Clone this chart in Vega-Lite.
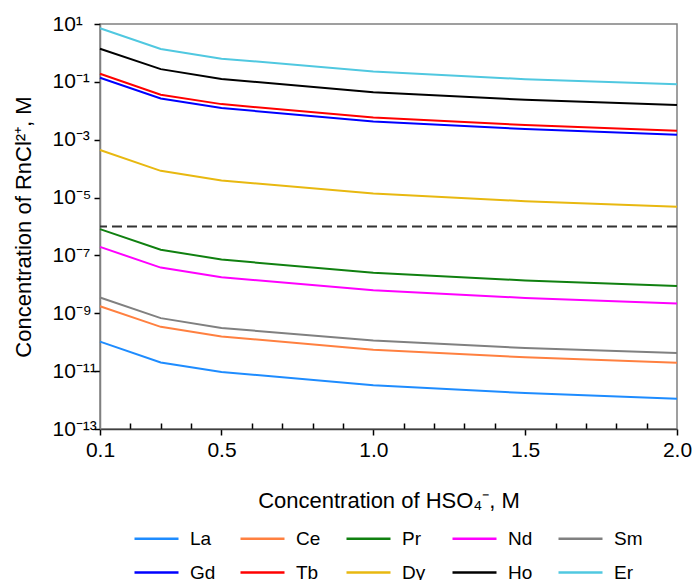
{
  "$schema": "https://vega.github.io/schema/vega-lite/v6.json",
  "width": 577,
  "height": 405,
  "autosize": {"type": "none"},
  "padding": {"left": 100, "top": 24, "right": 15, "bottom": 151},
  "background": "white",
  "config": {
    "font": "Liberation Sans",
    "view": {"stroke": "#808080", "strokeWidth": 1.5},
    "axis": {
      "grid": false,
      "labelFont": "Liberation Sans",
      "titleFont": "Liberation Sans",
      "labelFontSize": 21,
      "titleFontSize": 22,
      "titleFontWeight": "normal",
      "labelColor": "#000000",
      "titleColor": "#000000",
      "tickColor": "#000000",
      "tickWidth": 1.5,
      "domainWidth": 1.5
    }
  },
  "datasets": {
    "d": [
      {"x": 0.1, "el": "La", "c": 1.05e-10}, {"x": 0.3, "el": "La", "c": 2.0e-11}, {"x": 0.5, "el": "La", "c": 9.4e-12}, {"x": 1.0, "el": "La", "c": 3.25e-12}, {"x": 1.5, "el": "La", "c": 1.75e-12}, {"x": 2.0, "el": "La", "c": 1.12e-12},
      {"x": 0.1, "el": "Ce", "c": 1.75e-9}, {"x": 0.3, "el": "Ce", "c": 3.4e-10}, {"x": 0.5, "el": "Ce", "c": 1.57e-10}, {"x": 1.0, "el": "Ce", "c": 5.5e-11}, {"x": 1.5, "el": "Ce", "c": 3.0e-11}, {"x": 2.0, "el": "Ce", "c": 1.96e-11},
      {"x": 0.1, "el": "Pr", "c": 8.1e-7}, {"x": 0.3, "el": "Pr", "c": 1.58e-7}, {"x": 0.5, "el": "Pr", "c": 7.2e-8}, {"x": 1.0, "el": "Pr", "c": 2.5e-8}, {"x": 1.5, "el": "Pr", "c": 1.37e-8}, {"x": 2.0, "el": "Pr", "c": 8.8e-9},
      {"x": 0.1, "el": "Nd", "c": 1.97e-7}, {"x": 0.3, "el": "Nd", "c": 3.8e-8}, {"x": 0.5, "el": "Nd", "c": 1.76e-8}, {"x": 1.0, "el": "Nd", "c": 6.2e-9}, {"x": 1.5, "el": "Nd", "c": 3.4e-9}, {"x": 2.0, "el": "Nd", "c": 2.2e-9},
      {"x": 0.1, "el": "Sm", "c": 3.5e-9}, {"x": 0.3, "el": "Sm", "c": 6.8e-10}, {"x": 0.5, "el": "Sm", "c": 3.1e-10}, {"x": 1.0, "el": "Sm", "c": 1.15e-10}, {"x": 1.5, "el": "Sm", "c": 6.3e-11}, {"x": 2.0, "el": "Sm", "c": 4.2e-11},
      {"x": 0.1, "el": "Gd", "c": 0.139}, {"x": 0.3, "el": "Gd", "c": 0.0265}, {"x": 0.5, "el": "Gd", "c": 0.0124}, {"x": 1.0, "el": "Gd", "c": 0.0043}, {"x": 1.5, "el": "Gd", "c": 0.00234}, {"x": 2.0, "el": "Gd", "c": 0.00148},
      {"x": 0.1, "el": "Tb", "c": 0.19}, {"x": 0.3, "el": "Tb", "c": 0.036}, {"x": 0.5, "el": "Tb", "c": 0.017}, {"x": 1.0, "el": "Tb", "c": 0.0059}, {"x": 1.5, "el": "Tb", "c": 0.0032}, {"x": 2.0, "el": "Tb", "c": 0.00204},
      {"x": 0.1, "el": "Dy", "c": 4.4e-4}, {"x": 0.3, "el": "Dy", "c": 8.4e-5}, {"x": 0.5, "el": "Dy", "c": 3.9e-5}, {"x": 1.0, "el": "Dy", "c": 1.38e-5}, {"x": 1.5, "el": "Dy", "c": 7.5e-6}, {"x": 2.0, "el": "Dy", "c": 4.8e-6},
      {"x": 0.1, "el": "Ho", "c": 1.4}, {"x": 0.3, "el": "Ho", "c": 0.275}, {"x": 0.5, "el": "Ho", "c": 0.125}, {"x": 1.0, "el": "Ho", "c": 0.044}, {"x": 1.5, "el": "Ho", "c": 0.024}, {"x": 2.0, "el": "Ho", "c": 0.0157},
      {"x": 0.1, "el": "Er", "c": 7.1}, {"x": 0.3, "el": "Er", "c": 1.36}, {"x": 0.5, "el": "Er", "c": 0.635}, {"x": 1.0, "el": "Er", "c": 0.23}, {"x": 1.5, "el": "Er", "c": 0.124}, {"x": 2.0, "el": "Er", "c": 0.082}
    ]
  },
  "layer": [
    {
      "data": {"values": [{"c": 1e-6}]},
      "mark": {"type": "rule", "color": "#333333", "strokeWidth": 1.8, "strokeDash": [10, 5]},
      "encoding": {
        "y": {"field": "c", "type": "quantitative", "scale": {"type": "log", "domain": [1e-13, 10], "nice": false}, "title": "Concentration of RnCl²⁺, M"}
      }
    },
    {
      "data": {"name": "d"},
      "mark": {"type": "line", "strokeWidth": 2},
      "encoding": {
        "x": {
          "field": "x",
          "type": "quantitative",
          "scale": {"domain": [0.1, 2.0], "nice": false, "zero": false},
          "axis": {
            "title": "Concentration of HSO₄⁻, M",
            "values": [0.1, 0.2, 0.3, 0.4, 0.5, 0.6, 0.7, 0.8, 0.9, 1.0, 1.1, 1.2, 1.3, 1.4, 1.5, 1.6, 1.7, 1.8, 1.9, 2.0],
            "labelExpr": "indexof([0.1, 0.5, 1, 1.5, 2], datum.value) >= 0 ? format(datum.value, '.1f') : ''",
            "tickSize": {"condition": {"test": "indexof([0.1, 0.5, 1, 1.5, 2], datum.value) >= 0", "value": 6}, "value": -6},
            "labelPadding": 4,
            "labelFlush": false,
            "labelOverlap": false,
            "titlePadding": 30,
            "domainColor": "#404040"
          }
        },
        "y": {
          "field": "c",
          "type": "quantitative",
          "scale": {"type": "log", "domain": [1e-13, 10], "nice": false},
          "axis": {
            "title": "Concentration of RnCl²⁺, M",
            "values": [1e-13, 1e-11, 1e-9, 1e-7, 1e-5, 0.001, 0.1, 10],
            "labelExpr": "['10⁻¹³','10⁻¹²','10⁻¹¹','10⁻¹⁰','10⁻⁹','10⁻⁸','10⁻⁷','10⁻⁶','10⁻⁵','10⁻⁴','10⁻³','10⁻²','10⁻¹','10⁰','10¹'][round(log(datum.value)/LN10)+13]",
            "labelAlign": "left",
            "labelBaseline": "middle",
            "labelPadding": 42,
            "labelFlush": false,
            "labelOverlap": false,
            "tickSize": 6,
            "titlePadding": 17,
            "domainColor": "#808080"
          }
        },
        "color": {
          "field": "el",
          "type": "nominal",
          "scale": {
            "domain": ["La", "Ce", "Pr", "Nd", "Sm", "Gd", "Tb", "Dy", "Ho", "Er"],
            "range": ["#1e8cff", "#ff8040", "#108010", "#ff00ff", "#808080", "#0000ff", "#ff0000", "#e8b810", "#000000", "#50c8e0"]
          },
          "legend": {
            "title": null,
            "orient": "none",
            "legendX": 33,
            "legendY": 491,
            "direction": "horizontal",
            "columns": 5,
            "gridAlign": "all",
            "columnPadding": 16,
            "rowPadding": -12,
            "symbolType": "stroke",
            "symbolSize": 1936,
            "symbolStrokeWidth": 2.5,
            "labelFontSize": 19,
            "labelFont": "Liberation Sans",
            "labelColor": "#000000",
            "labelOffset": 10,
            "padding": 0
          }
        }
      }
    }
  ]
}
